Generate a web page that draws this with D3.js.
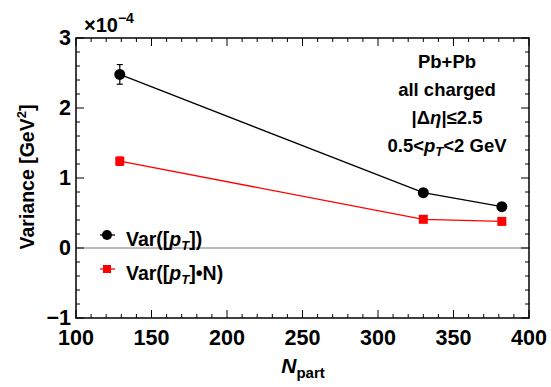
<!DOCTYPE html>
<html><head><meta charset="utf-8">
<script src="https://cdn.jsdelivr.net/npm/d3@7"></script>
<style>body{margin:0;background:#fff}svg text{font-family:"Liberation Sans",Arial,sans-serif;font-weight:bold}</style>
</head><body>
<svg id="c" width="551" height="387"></svg>
<script>
const npart = [129, 330, 382];
const varPt = [2.48, 0.79, 0.59];
const varPtErr = [0.14, 0.02, 0.02];
const varPtN = [1.24, 0.41, 0.38];
const varPtNErr = [0.06, 0.02, 0.02];
const xTicks = [100, 150, 200, 250, 300, 350, 400];
const yTicks = [-1, 0, 1, 2, 3];

const svg = d3.select("#c");
const L = 76, R = 529, T = 38, B = 318;
const x = d3.scaleLinear().domain([100, 400]).range([L, R]);
const y = d3.scaleLinear().domain([-1, 3]).range([B, T]);

// zero line
svg.append("line").attr("x1", L).attr("x2", R).attr("y1", y(0)).attr("y2", y(0))
  .attr("stroke", "#777").attr("stroke-width", 1);

// ticks
const g = svg.append("g").attr("stroke", "#000").attr("stroke-width", 1);
d3.range(100, 401, 10).forEach(v => {
  const major = v % 50 === 0, len = major ? 8 : 4;
  g.append("line").attr("x1", x(v)).attr("x2", x(v)).attr("y1", B).attr("y2", B - len);
  g.append("line").attr("x1", x(v)).attr("x2", x(v)).attr("y1", T).attr("y2", T + len);
});
d3.range(-10, 31, 2).forEach(i => {
  const v = i / 10, major = i % 10 === 0, len = major ? 8 : 4;
  g.append("line").attr("x1", L).attr("x2", L + len).attr("y1", y(v)).attr("y2", y(v));
  g.append("line").attr("x1", R).attr("x2", R - len).attr("y1", y(v)).attr("y2", y(v));
});
svg.append("rect").attr("x", L).attr("y", T).attr("width", R - L).attr("height", B - T)
  .attr("fill", "none").attr("stroke", "#000").attr("stroke-width", 1.5);

// tick labels
xTicks.forEach(v => svg.append("text").attr("x", x(v)).attr("y", B + 27)
  .attr("text-anchor", "middle").attr("font-size", 21.5).text(v));
yTicks.forEach(v => svg.append("text").attr("x", L - 5).attr("y", y(v) + 7)
  .attr("text-anchor", "end").attr("font-size", 21.5).text(v < 0 ? "\u2212" + Math.abs(v) : v));

// multiplier
const m = svg.append("text").attr("x", 84).attr("y", 32).attr("font-size", 20);
m.append("tspan").text("\u00d710");
m.append("tspan").attr("dy", -9).attr("font-size", 14).text("\u22124");

// axis labels
const yl = svg.append("text").attr("transform", `translate(34,177) rotate(-90)`)
  .attr("text-anchor", "middle").attr("font-size", 19.5);
yl.append("tspan").text("Variance [GeV");
yl.append("tspan").attr("dy", -8).attr("font-size", 13).text("2");
yl.append("tspan").attr("dy", 8).text("]");
const xl = svg.append("text").attr("x", 303).attr("y", 373).attr("text-anchor", "middle").attr("font-size", 21);
xl.append("tspan").attr("font-style", "italic").text("N");
xl.append("tspan").attr("dy", 5).attr("font-size", 15).text("part");

// series
const line = d3.line().x(d => x(d[0])).y(d => y(d[1]));
function series(vals, errs, color, shape) {
  const pts = npart.map((n, i) => [n, vals[i], errs[i]]);
  svg.append("path").datum(pts).attr("d", line).attr("fill", "none").attr("stroke", color).attr("stroke-width", 1.3);
  pts.forEach(p => {
    const cx = x(p[0]);
    svg.append("line").attr("x1", cx).attr("x2", cx).attr("y1", y(p[1] - p[2])).attr("y2", y(p[1] + p[2])).attr("stroke", color).attr("stroke-width", 1.2);
    [p[1] - p[2], p[1] + p[2]].forEach(v => svg.append("line").attr("x1", cx - 3).attr("x2", cx + 3).attr("y1", y(v)).attr("y2", y(v)).attr("stroke", color).attr("stroke-width", 1.2));
    if (shape === "circle") svg.append("circle").attr("cx", cx).attr("cy", y(p[1])).attr("r", 5.5).attr("fill", color);
    else svg.append("rect").attr("x", cx - 4.5).attr("y", y(p[1]) - 4.5).attr("width", 9).attr("height", 9).attr("fill", color);
  });
}
series(varPt, varPtErr, "#000", "circle");
series(varPtN, varPtNErr, "#f00", "square");

// legend
function legendItem(yy, color, shape, parts) {
  svg.append("line").attr("x1", 100).attr("x2", 115).attr("y1", yy).attr("y2", yy).attr("stroke", color).attr("stroke-width", 1.3);
  if (shape === "circle") svg.append("circle").attr("cx", 107).attr("cy", yy).attr("r", 5).attr("fill", color);
  else svg.append("rect").attr("x", 103).attr("y", yy - 4).attr("width", 8).attr("height", 8).attr("fill", color);
  const t = svg.append("text").attr("x", 126).attr("y", yy + 11).attr("font-size", 19.5);
  parts.forEach(p => {
    const s = t.append("tspan").text(p.t);
    if (p.i) s.attr("font-style", "italic");
    if (p.sub) s.attr("dy", 4).attr("font-size", 13);
    if (p.back) s.attr("dy", -4);
  });
}
legendItem(235, "#000", "circle", [{t: "Var([" }, {t: "p", i: 1}, {t: "T", i: 1, sub: 1}, {t: "])", back: 1}]);
legendItem(269, "#f00", "square", [{t: "Var([" }, {t: "p", i: 1}, {t: "T", i: 1, sub: 1}, {t: "]\u2022N)", back: 1}]);

// annotation
const ax = 447, fs = 18.5;
svg.append("text").attr("x", ax).attr("y", 68).attr("text-anchor", "middle").attr("font-size", fs).text("Pb+Pb");
svg.append("text").attr("x", ax).attr("y", 96).attr("text-anchor", "middle").attr("font-size", fs).text("all charged");
const a3 = svg.append("text").attr("x", ax).attr("y", 124).attr("text-anchor", "middle").attr("font-size", fs);
a3.append("tspan").text("|\u0394");
a3.append("tspan").attr("font-style", "italic").text("\u03b7");
a3.append("tspan").text("|\u22642.5");
const a4 = svg.append("text").attr("x", ax).attr("y", 152).attr("text-anchor", "middle").attr("font-size", fs);
a4.append("tspan").text("0.5<");
a4.append("tspan").attr("font-style", "italic").text("p");
a4.append("tspan").attr("font-style", "italic").attr("dy", 4).attr("font-size", 13).text("T");
a4.append("tspan").attr("dy", -4).text("<2 GeV");
</script>
</body></html>
